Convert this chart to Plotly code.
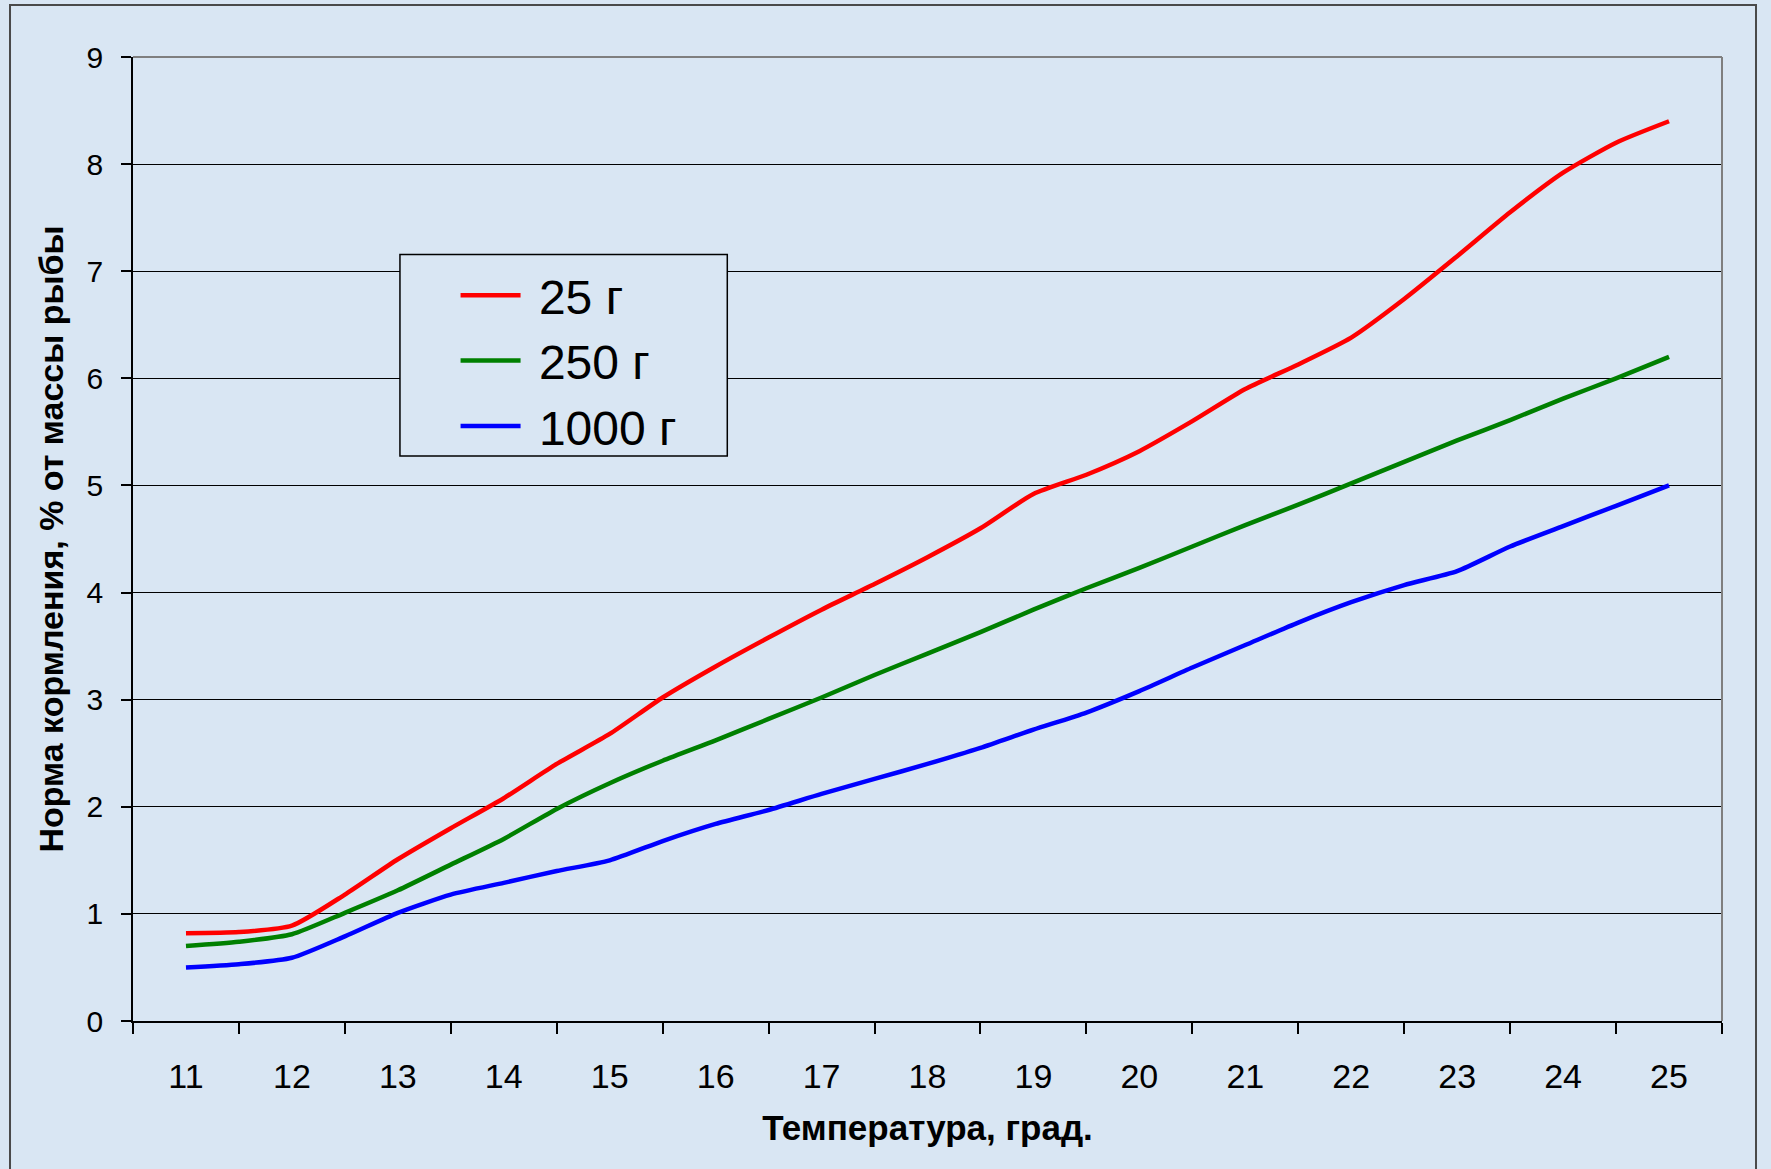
import plotly.graph_objects as go

# Water temperature, degrees (half-degree steps)
temps = [11, 11.5, 12, 12.5, 13, 13.5, 14, 14.5, 15, 15.5, 16, 16.5, 17, 17.5,
         18, 18.5, 19, 19.5, 20, 20.5, 21, 21.5, 22, 22.5, 23, 23.5, 24, 24.5, 25]

# Daily feeding rate, % of fish body mass, by fish weight
rate_25g = [0.82, 0.83, 0.89, 1.18, 1.51, 1.80, 2.08, 2.40, 2.68, 3.02, 3.31, 3.58,
            3.84, 4.08, 4.33, 4.60, 4.92, 5.10, 5.32, 5.60, 5.90, 6.13, 6.38, 6.74,
            7.14, 7.55, 7.92, 8.20, 8.40]
rate_250g = [0.70, 0.74, 0.81, 1.01, 1.22, 1.46, 1.70, 1.98, 2.22, 2.43, 2.62, 2.82,
             3.02, 3.23, 3.43, 3.63, 3.84, 4.04, 4.23, 4.43, 4.63, 4.82, 5.02, 5.22,
             5.42, 5.61, 5.81, 6.00, 6.20]
rate_1000g = [0.50, 0.53, 0.59, 0.79, 1.01, 1.18, 1.29, 1.40, 1.50, 1.68, 1.84, 1.97,
              2.12, 2.26, 2.40, 2.55, 2.72, 2.88, 3.08, 3.30, 3.51, 3.72, 3.91, 4.07,
              4.20, 4.43, 4.62, 4.81, 5.00]

series_names = ["25 г", "250 г", "1000 г"]
series_colors = ["#ff0000", "#008000", "#0000ff"]

x_labels = [11, 12, 13, 14, 15, 16, 17, 18, 19, 20, 21, 22, 23, 24, 25]
x_bounds = [10.5, 11.5, 12.5, 13.5, 14.5, 15.5, 16.5, 17.5, 18.5, 19.5, 20.5,
            21.5, 22.5, 23.5, 24.5, 25.5]
y_ticks = [0, 1, 2, 3, 4, 5, 6, 7, 8, 9]

BG = "#d9e6f3"
SANS = "Liberation Sans, Arial, sans-serif"

fig = go.Figure()
for name, color, ys in zip(series_names, series_colors, [rate_25g, rate_250g, rate_1000g]):
    fig.add_trace(go.Scatter(
        x=temps, y=ys, name="\u00a0" + name, mode="lines",
        line=dict(color=color, width=4.5, shape="spline", smoothing=0.6),
    ))

fig.update_layout(
    width=1771, height=1169,
    margin=dict(l=133, r=49, t=57, b=148),
    paper_bgcolor=BG, plot_bgcolor=BG,
    showlegend=True,
    legend=dict(
        x=0.203, y=0.792, xanchor="left", yanchor="top",
        bgcolor="rgba(0,0,0,0)", borderwidth=0,
        font=dict(family=SANS, size=48, color="#000000"),
        itemwidth=60, tracegroupgap=0,
    ),
    xaxis=dict(
        range=[10.5, 25.5], tickmode="array", tickvals=x_labels,
        ticktext=[str(v) for v in x_labels], ticks="",
        showgrid=False, zeroline=False,
        showline=True, linecolor="#000000", linewidth=1.5,
        tickfont=dict(family=SANS, size=34, color="#000000"),
        ticklabelstandoff=24,
        minor=dict(tickmode="array", tickvals=x_bounds, ticks="outside",
                   ticklen=11, tickwidth=1.5, tickcolor="#000000", showgrid=False),
        title=dict(text="<b>Температура, град.</b>", standoff=22,
                   font=dict(family=SANS, size=35, color="#000000")),
    ),
    yaxis=dict(
        range=[0, 9], tickmode="array", tickvals=y_ticks,
        ticks="outside", ticklen=10, tickwidth=1.5, tickcolor="#000000",
        showgrid=True, gridcolor="#000000", gridwidth=1.2,
        zeroline=False, showline=True, linecolor="#000000", linewidth=1.5,
        tickfont=dict(family=SANS, size=30, color="#000000"),
        ticklabelstandoff=12,
        title=dict(text="<b>Норма кормления, % от массы рыбы</b>", standoff=13,
                   font=dict(family=SANS, size=34, color="#000000")),
    ),
    shapes=[
        # grey border on the top and right of the plotting area
        dict(type="line", xref="paper", yref="paper", x0=0, x1=1, y0=1, y1=1,
             line=dict(color="#7f7f7f", width=2)),
        dict(type="line", xref="paper", yref="paper", x0=1, x1=1, y0=0, y1=1,
             line=dict(color="#7f7f7f", width=2)),
        # legend box
        dict(type="rect", xref="paper", yref="paper",
             x0=0.168, x1=0.374, y0=0.586, y1=0.795,
             fillcolor=BG, line=dict(color="#000000", width=1.5), layer="above"),
        # outer chart frame
        dict(type="rect", xref="paper", yref="paper",
             x0=-0.0774, x1=1.0214, y0=-0.25, y1=1.054,
             line=dict(color="#4a4a4a", width=2), layer="below"),
    ],
)

fig.write_html("out.html")
